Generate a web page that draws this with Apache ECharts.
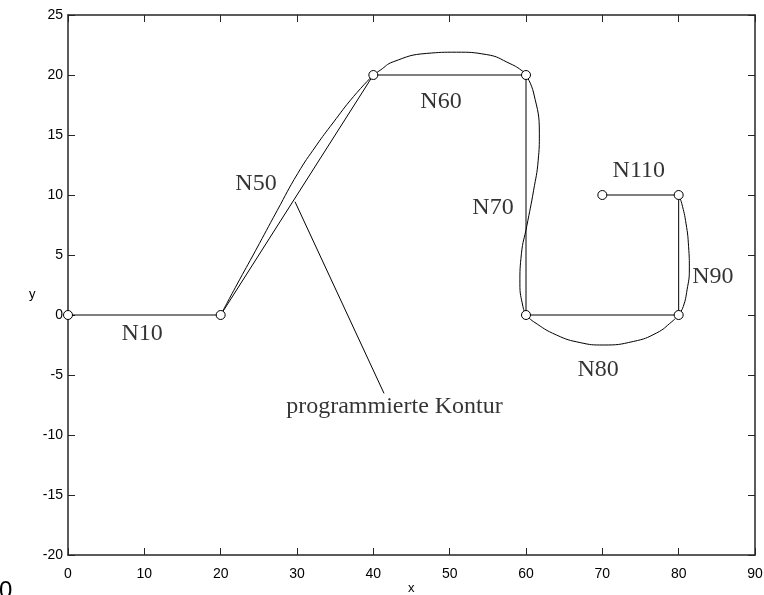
<!DOCTYPE html>
<html>
<head>
<meta charset="utf-8">
<script src="https://cdn.jsdelivr.net/npm/echarts@6/dist/echarts.min.js"></script>
<style>html,body{margin:0;padding:0;background:#fff;}#c{width:764px;height:595px;}</style>
</head>
<body>
<div id="c"></div>
<script>
// programmed contour (vertices)
var progX = [0, 20, 40, 60, 60, 80, 80, 70];
var progY = [0, 0, 20, 20, 0, 0, 10, 10];
var n50X = [20, 22.1, 24.6, 27.4, 30.1, 32.5, 34.7, 37.4, 40];
var n50Y = [0, 2.5, 5.4, 8.7, 11.8, 14.1, 16.0, 18.2, 20];
var n60X = [40, 40.9, 42.6, 47.0, 50.9, 54.85, 57.9, 59.6, 60];
var n60Y = [20, 20.4, 21.1, 21.8, 21.9, 21.7, 20.95, 20.3, 20];
var n70X = [60, 61.0, 61.75, 61.6, 61.0, 60.1, 59.4, 59.2, 59.6, 60];
var n70Y = [20, 18.5, 15.1, 12.9, 10.4, 7.4, 5.1, 2.6, 0.7, 0];
var n80X = [60, 61.0, 64.0, 67.1, 70.1, 74.1, 77.1, 79.1, 80];
var n80Y = [0, -0.56, -1.67, -2.3, -2.5, -2.2, -1.5, -0.56, 0];
var n90X = [80, 80.6, 81.1, 81.4, 81.3, 80.97, 80.4, 80];
var n90Y = [0, 0.7, 2.1, 3.75, 5.7, 7.6, 9.3, 10];
// annotation labels
var labelText = ['N10', 'N50', 'N60', 'N70', 'N80', 'N110', 'N90', 'programmierte Kontur'];
var labelX = [9.7, 24.63, 48.87, 55.68, 69.44, 74.78, 84.48, 42.77];
var labelY = [-1.58, 10.92, 17.75, 8.94, -4.58, 12.02, 3.19, -7.67];
// pointer line
var pointerX = [29.74, 41.4];
var pointerY = [9.44, -6.53];
// axes
var xMin = 0, xMax = 90, xStep = 10;
var yMin = -20, yMax = 25, yStep = 5;
var xName = 'x', yName = 'y';

function zip(a, b) { return a.map(function (v, i) { return [v, b[i]]; }); }

var axisCommon = {
  type: 'value',
  axisLine: { show: true, onZero: false, lineStyle: { color: '#262626', width: 1.5 } },
  axisTick: { show: true, inside: true, length: 7, lineStyle: { color: '#262626', width: 1 } },
  splitLine: { show: false }
};
function ax(extra) { return Object.assign({}, JSON.parse(JSON.stringify(axisCommon)), extra); }

var tickFont = { color: '#000', fontSize: 14, fontFamily: 'Liberation Sans' };

function pathSeries(xs, ys) {
  return {
    type: 'line', data: zip(xs, ys), smooth: 0.5, showSymbol: false, symbol: 'none',
    lineStyle: { color: '#000', width: 1 }, z: 2
  };
}

var chart = echarts.init(document.getElementById('c'), null, { renderer: 'canvas' });
chart.setOption({
  animation: false,
  backgroundColor: '#fff',
  grid: { left: 68, right: 9, top: 15, bottom: 40, containLabel: false, outerBoundsMode: 'none' },
  xAxis: [
    ax({ position: 'bottom', min: xMin, max: xMax, interval: xStep,
      axisLabel: Object.assign({ margin: 12, showMinLabel: true, showMaxLabel: true }, tickFont) }),
    ax({ position: 'top', min: xMin, max: xMax, interval: xStep, axisLabel: { show: false } })
  ],
  yAxis: [
    ax({ position: 'left', min: yMin, max: yMax, interval: yStep,
      axisLabel: Object.assign({ margin: 5, showMinLabel: true, showMaxLabel: true }, tickFont) }),
    ax({ position: 'right', min: yMin, max: yMax, interval: yStep, axisLabel: { show: false } })
  ],
  graphic: [
    { type: 'text', left: 29, top: 288, style: { text: yName, fill: '#000', font: '13px "Liberation Sans"' } },
    { type: 'text', left: 408, top: 582, style: { text: xName, fill: '#000', font: '13px "Liberation Sans"' } },
    { type: 'text', left: -1, top: 579, style: { text: '0', fill: '#000', font: '24px "Liberation Sans"' } }
  ],
  series: [
    pathSeries(n50X, n50Y),
    pathSeries(n60X, n60Y),
    pathSeries(n70X, n70Y),
    pathSeries(n80X, n80Y),
    pathSeries(n90X, n90Y),
    {
      type: 'line', data: zip(progX, progY), smooth: false, symbol: 'circle', symbolSize: 9, showSymbol: true,
      itemStyle: { color: '#fff', borderColor: '#000', borderWidth: 1 },
      lineStyle: { color: '#000', width: 1 }, z: 3
    },
    {
      type: 'line', data: zip(pointerX, pointerY), symbol: 'none',
      lineStyle: { color: '#000', width: 1 }, z: 2
    },
    {
      type: 'scatter', symbolSize: 0, z: 4,
      data: labelText.map(function (t, i) { return { name: t, value: [labelX[i], labelY[i]] }; }),
      label: { show: true, position: 'inside', formatter: function (p) { return p.name; },
        color: '#000', fontSize: 24, fontFamily: 'Liberation Serif' }
    }
  ]
});
</script>
</body>
</html>
